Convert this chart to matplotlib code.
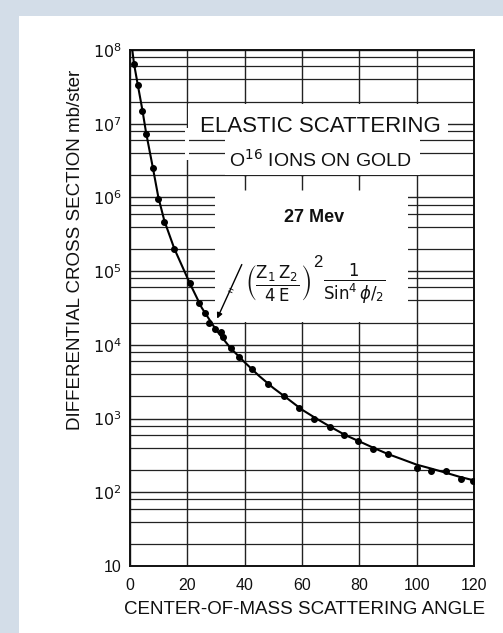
import matplotlib
matplotlib.use("Agg")
import matplotlib.pyplot as plt
from matplotlib.patches import Rectangle
from matplotlib.ticker import LogLocator, NullFormatter

plt.rcParams['font.family'] = ['Liberation Sans', 'DejaVu Sans']
plt.rcParams['mathtext.fontset'] = 'dejavusans'

# measured points (angle in degrees, cross section in mb/ster)
point_angle = [1.4, 2.7, 4.3, 5.6, 8.0, 9.9, 12.0, 15.5, 20.9, 24.1, 26.2, 27.7,
               29.7, 31.7, 32.4, 35.1, 38.0, 42.7, 48.3, 53.8, 59.0, 64.2, 69.6,
               74.5, 79.7, 84.7, 89.9, 100.1, 105.1, 110.2, 115.4, 119.8]
point_xsec = [6.5e7, 3.4e7, 1.5e7, 7.2e6, 2.5e6, 9.4e5, 4.7e5, 2.0e5, 6.8e4, 3.7e4,
              2.7e4, 2.0e4, 1.66e4, 1.5e4, 1.29e4, 9.0e3, 6.9e3, 4.7e3, 2.9e3,
              2.04e3, 1.37e3, 984, 760, 597, 495, 389, 327, 215, 196, 194, 150, 143]

# Rutherford curve as drawn
curve_angle = [0.8, 1.4, 2.7, 4.3, 5.6, 8.0, 9.9, 12.0, 15.5, 20.9, 25, 30, 35, 40,
               45, 50, 55, 60, 65, 70, 75, 80, 85, 90, 95, 100, 105, 110, 115, 120]
curve_xsec = [1.0e8, 6.5e7, 3.4e7, 1.55e7, 7.6e6, 2.5e6, 1.0e6, 4.8e5, 2.0e5, 6.8e4,
              3.2e4, 1.6e4, 9.1e3, 5.8e3, 3.8e3, 2.6e3, 1.86e3, 1.32e3, 1.0e3, 770,
              600, 490, 400, 330, 280, 237, 210, 185, 162, 145]

x_ticks = [0, 20, 40, 60, 80, 100, 120]
y_ticks = [10, 1e2, 1e3, 1e4, 1e5, 1e6, 1e7, 1e8]
y_labels = ['10', '$10^2$', '$10^3$', '$10^4$', '$10^5$', '$10^6$', '$10^7$', '$10^8$']

fig = plt.figure(figsize=(5.03, 6.33), dpi=100, facecolor='#d3dde8')
fig.patches.append(Rectangle((19/503, 0), 1 - 19/503, 1 - 16/633,
                             transform=fig.transFigure, facecolor='white',
                             edgecolor='none', zorder=-1))

ax = fig.add_axes([130/503, 67/633, 344/503, 516/633])
ax.set_yscale('log')
ax.set_xlim(0, 120)
ax.set_ylim(10, 1e8)

ax.set_xticks(x_ticks)
ax.set_xticklabels([str(v) for v in x_ticks])
ax.set_yticks(y_ticks)
ax.set_yticklabels(y_labels)
ax.yaxis.set_minor_locator(LogLocator(base=10, subs=(2, 4, 6, 8)))
ax.yaxis.set_minor_formatter(NullFormatter())
ax.tick_params(which='both', length=0, labelsize=11.5, colors='#111')
ax.tick_params(axis='x', pad=9)
ax.tick_params(axis='y', pad=6)

ax.set_axisbelow(True)
ax.grid(True, which='major', color='#222', lw=1.0)
ax.grid(True, which='minor', axis='y', color='#222', lw=0.9)
for s in ax.spines.values():
    s.set_linewidth(1.4)
    s.set_color('#111')

# white areas where the labels sit on the grid
white = dict(facecolor='white', edgecolor='none', zorder=1)
ax.add_patch(Rectangle((20.4, 6.6e6), 111.0 - 20.4, 1.88e7 - 6.6e6, **white))
ax.add_patch(Rectangle((19.3, 3.21e6), 1.4, 8.75e6 - 3.21e6, **white))
ax.add_patch(Rectangle((33.2, 2.03e6), 101.2 - 33.2, 6.6e6 - 2.03e6, **white))
ax.add_patch(Rectangle((29.67, 2.07e4), 97.0 - 29.67, 1.89e6 - 2.07e4, **white))
ax.vlines([40, 60, 80], 1.26e6, 2.0e6, color='#222', lw=1.0, zorder=1.5)

ax.plot(curve_angle, curve_xsec, color='black', lw=1.5, zorder=3)
ax.plot(point_angle, point_xsec, 'o', color='black', ms=4, zorder=4)

ax.text(66.3, 7.7e6, 'ELASTIC SCATTERING', ha='center', va='baseline',
        fontsize=16, color='#111', zorder=5)
ax.text(66.3, 2.61e6, 'O$^{16}$ IONS ON GOLD', ha='center', va='baseline',
        fontsize=14, color='#111', zorder=5)
ax.text(64.2, 4.64e5, '27 Mev', ha='center', va='baseline',
        fontsize=13, fontweight='bold', color='#111', zorder=5)

# formula in three pieces so the square sits up by the bracket
ax.text(63.3, 6.9e4, r'$\left(\frac{\mathrm{Z}_1\,\mathrm{Z}_2}{\mathrm{4\,E}}\right)$',
        ha='right', va='center', fontsize=17, color='#111', zorder=5)
ax.text(63.9, 1.32e5, '2', ha='left', va='center', fontsize=12, color='#111', zorder=5)
ax.text(67.3, 6.9e4, r'$\frac{\mathrm{1}}{\mathrm{Sin}^\mathrm{4}\,\phi/_\mathrm{2}}$',
        ha='left', va='center', fontsize=17, color='#111', zorder=5)

ax.annotate('', xy=(30.0, 2.1e4), xytext=(39.4, 1.33e5),
            arrowprops=dict(arrowstyle='-|>', color='black', lw=1.0,
                            mutation_scale=8), zorder=5)
ax.text(34.6, 5.3e4, '=', rotation=-25, ha='center', va='center',
        fontsize=7, zorder=5)

fig.text(76/503, 1 - 250/633, 'DIFFERENTIAL CROSS SECTION mb/ster', rotation=90,
         ha='center', va='center', fontsize=13.5, color='#111')
fig.text(305/503, 1 - 609/633, 'CENTER-OF-MASS SCATTERING ANGLE',
         ha='center', va='center', fontsize=13.5, color='#111')

fig.savefig('out.png', dpi=100, facecolor=fig.get_facecolor())
